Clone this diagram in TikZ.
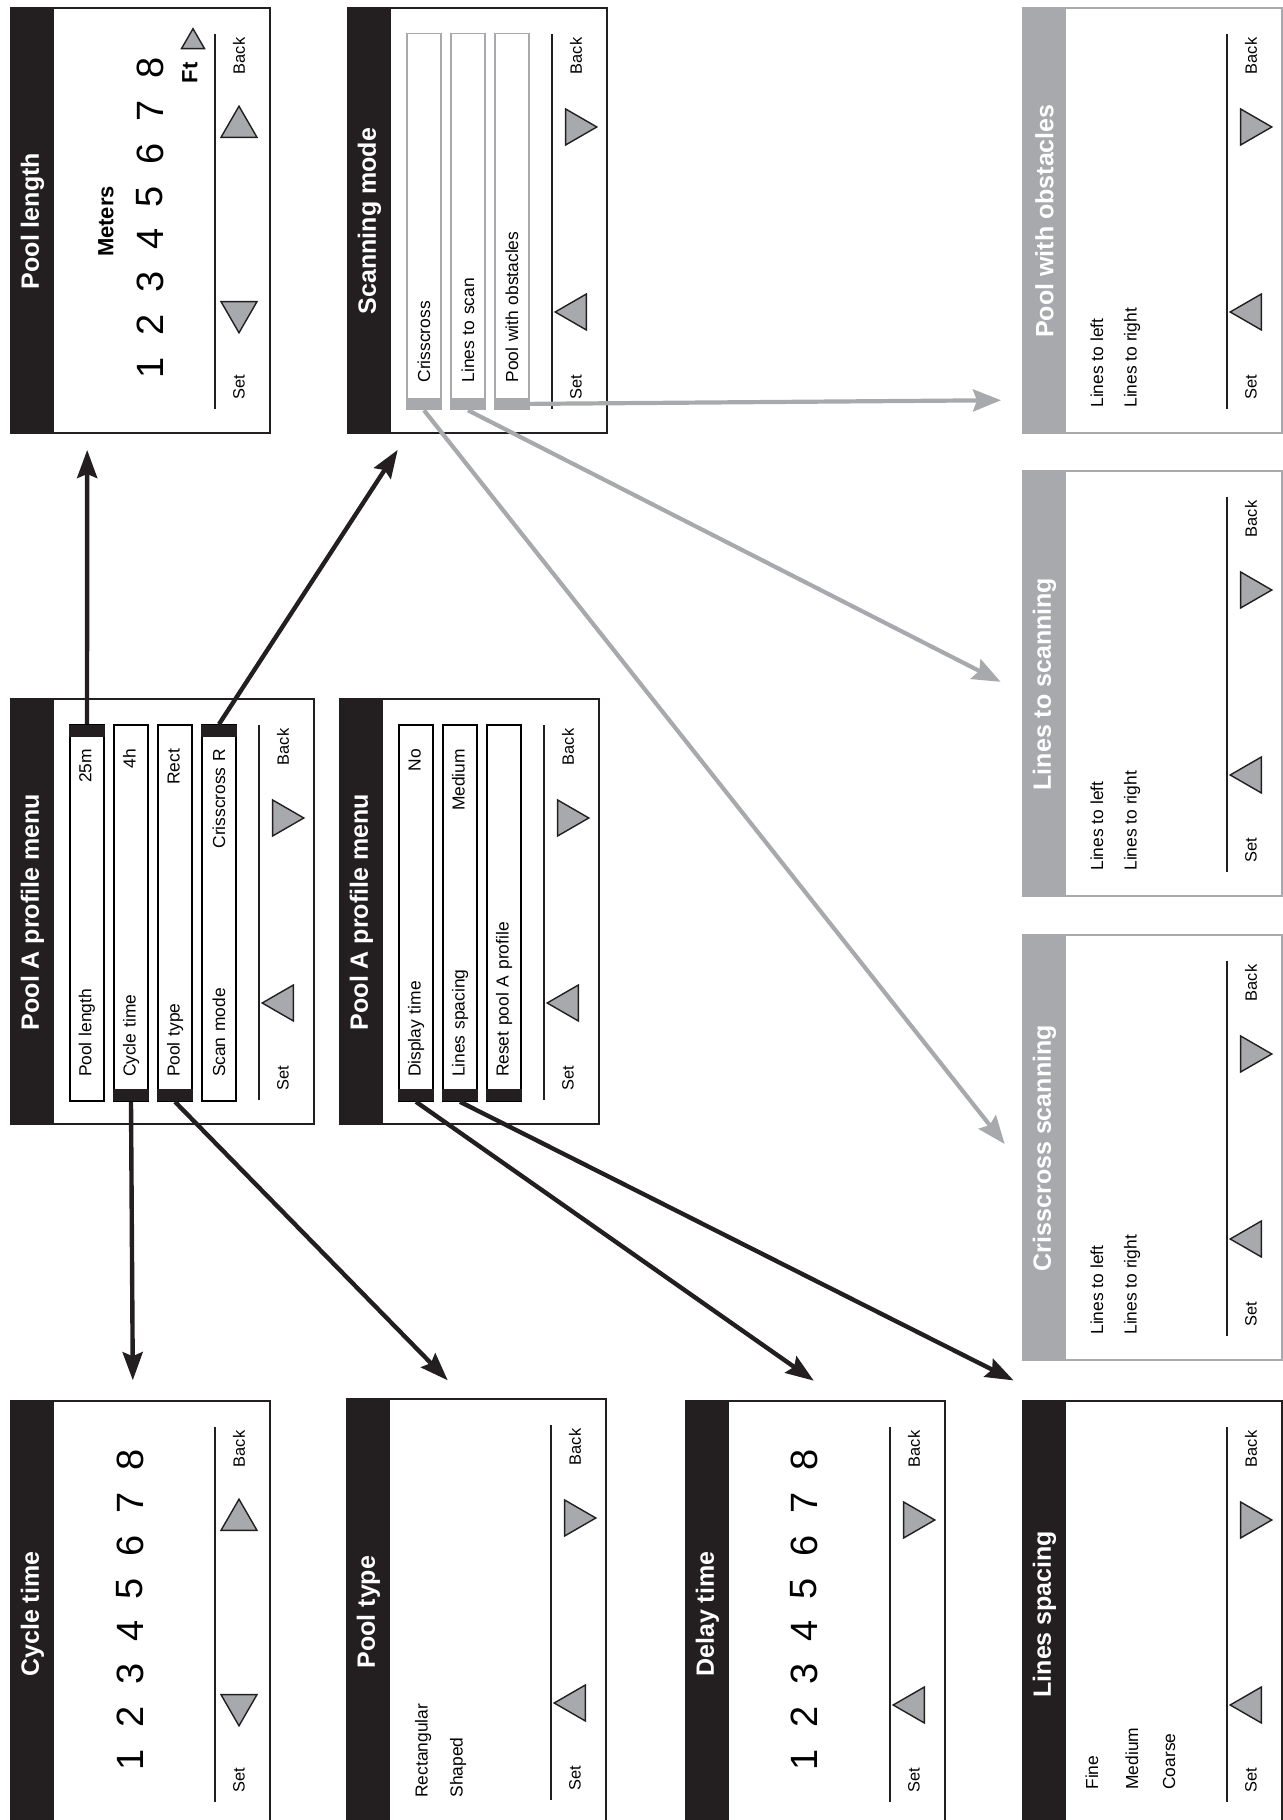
\documentclass[tikz,border=0pt]{standalone}
\usepackage{fontspec}
\setmainfont{Liberation Sans}
\usepackage{xcolor}
\usepackage{tikz}
\usetikzlibrary{arrows.meta,shapes.geometric}
\definecolor{scrdark}{HTML}{231F20}
\definecolor{scrgray}{HTML}{A7A9AC}
\tikzset{
    screenbox/.style={
        draw,
        fill=white,
        line width=0.9pt,
        inner sep=0pt,
        minimum width=212.5pt,
        anchor=north west
    },
    titlebar/.style={
        inner sep=0pt,
        minimum width=212.5pt,
        minimum height=22pt,
        anchor=north west,
        text=white,
        font=\fontsize{12.5}{15}\selectfont\bfseries
    },
    menuitem/.style={
        draw,
        fill=white,
        line width=0.8pt,
        inner xsep=12pt,
        inner ysep=0pt,
        text width=164pt,
        minimum height=17pt,
        font=\fontsize{8.7}{10}\selectfont
    },
    itemtab/.style={
        fill=scrdark,
        inner sep=0pt,
        minimum width=6pt,
        minimum height=17.8pt
    },
    navtri/.style={
        regular polygon,
        regular polygon sides=3,
        draw=scrdark,
        fill=scrgray,
        line width=0.7pt,
        inner sep=0pt,
        minimum size=20.8pt
    },
    keylabel/.style={
        inner sep=0pt,
        font=\fontsize{8.2}{9.6}\selectfont
    },
    listtext/.style={
        anchor=west,
        inner sep=0pt,
        font=\fontsize{8.7}{10}\selectfont
    },
    digit/.style={
        inner sep=0pt,
        font=\fontsize{19}{22}\selectfont
    },
    footline/.style={
        draw=scrdark,
        line width=1.4pt
    },
    blackarrow/.style={
        -{Stealth[length=14pt,width=10pt,inset=2pt]},
        draw=scrdark,
        line width=2.2pt
    },
    grayarrow/.style={
        -{Stealth[length=14pt,width=11pt,inset=2pt]},
        draw=scrgray,
        line width=2.1pt
    }
}

\begin{document}
\begin{tikzpicture}[x=1pt, y=1pt, rotate=90, transform shape]
    \useasboundingbox (0,-641.5) rectangle (910,0);
    \clip (0,-641.5) rectangle (910,0);

    \foreach \n/\x/\y/\h/\t/\c/\ra/\rb in {
        pl/693/-5/129.5/Pool length/scrdark/90/-90,
        scan/693/-173.5/129.5/Scanning mode/scrdark/0/180,
        obst/693/-511/129.5/Pool with obstacles/scrgray/0/180,
        lscan/461.5/-511/129.5/Lines to scanning/scrgray/0/180,
        cscan/229.5/-511/129.5/Crisscross scanning/scrgray/0/180,
        menua/347.5/-5/151.5/Pool A profile menu/scrdark/0/180,
        menub/347.5/-169.5/129.5/Pool A profile menu/scrdark/0/180,
        cyc/-3.5/-5/129.5/Cycle time/scrdark/90/-90,
        ptype/-2.5/-173/129.5/Pool type/scrdark/0/180,
        delay/-3.5/-342.5/129.5/Delay time/scrdark/0/180,
        lsp/-3.5/-511/129.5/Lines spacing/scrdark/0/180}{
        \node[screenbox, draw=\c, minimum height=\h pt] (\n) at (\x,\y) {};
        \node[titlebar, fill=\c] (\n-title) at (\x,\y) {\t};
        \draw[footline] (\x+12.5,\y-\h+27) -- (\x+200,\y-\h+27);
        \node[keylabel] (\n-set) at (\x+23.5,\y-\h+15) {Set};
        \node[keylabel] (\n-back) at (\x+189,\y-\h+15) {Back};
        \node[navtri, rotate=\ra] (\n-prev) at (\x+61,\y-\h+15) {};
        \node[navtri, rotate=\rb] (\n-next) at (\x+153.5,\y-\h+15) {};
    }

    \foreach \n/\y/\lab/\val/\side in {
        a1/-43.5/Pool length/25m/east,
        a2/-65.5/Cycle time/4h/west,
        a3/-87.5/Pool type/Rect/west,
        a4/-109.5/Scan mode/Crisscross R/east,
        b1/-208/Display time/No/west,
        b2/-230/Lines spacing/Medium/west,
        b3/-252/Reset pool A profile//west}{
        \node[menuitem] (\n) at (453.5,\y) {\lab\hfill\val\hspace*{3pt}};
        \node[itemtab, anchor=\side] (\n-tab) at (\n.\side) {};
    }

    \foreach \n/\y/\lab in {
        s1/-212/Crisscross,
        s2/-234/Lines to scan,
        s3/-256/Pool with obstacles}{
        \node[menuitem, draw=scrgray] (\n) at (799.25,\y) {\hspace*{1.5pt}\lab};
        \node[itemtab, fill=scrgray, anchor=west] (\n-tab) at (\n.west) {};
    }

    \node[font=\fontsize{11}{13}\selectfont\bfseries, inner sep=0pt] (pl-unit) at (799.25,-53) {Meters};
    \node[font=\fontsize{11}{13}\selectfont\bfseries, inner sep=0pt] (pl-ft) at (873.5,-95) {Ft};
    \node[navtri, minimum size=13.3pt, rotate=-90] (pl-ftnext) at (889,-96.5) {};
    \foreach \k in {1,...,8}{
        \node[digit] (pl-d\k) at ({726+(\k-1)*21.43},-75) {\k};
        \node[digit] (cyc-d\k) at ({30+(\k-1)*21.43},-65) {\k};
        \node[digit] (delay-d\k) at ({30+(\k-1)*21.43},-402) {\k};
    }

    \node[listtext] (ptype-rect) at (11,-211.5) {Rectangular};
    \node[listtext] (ptype-shaped) at (11,-229) {Shaped};
    \node[listtext] (lsp-fine) at (15,-546) {Fine};
    \node[listtext] (lsp-medium) at (15,-566) {Medium};
    \node[listtext] (lsp-coarse) at (15,-584.5) {Coarse};
    \foreach \n/\x in {obst/706, lscan/474.5, cscan/242.5}{
        \node[listtext] (\n-left) at (\x,-548.5) {Lines to left};
        \node[listtext] (\n-right) at (\x,-566) {Lines to right};
    }

    \draw[blackarrow, shorten >=8pt] (a1-tab.east) -- (pl.166.1);
    \draw[blackarrow, shorten >=10pt] (a2-tab.west) -- (cyc.2.3);
    \draw[blackarrow, shorten >=12.5pt] (a3-tab.west) -- (ptype.3);
    \draw[blackarrow, shorten >=9.5pt] (a4-tab.east) -- (scan.162.7);
    \draw[blackarrow, shorten >=17pt] (b1-tab.west) -- (delay.-7);
    \draw[blackarrow, shorten >=22pt] (b2-tab.west) -- (lsp.25.6);

    \draw[grayarrow, shorten >=14pt] (s1-tab.west) -- (cscan.98.8);
    \draw[grayarrow, shorten >=12pt] (s2-tab.west) -- (lscan.94);
    \draw[grayarrow, shorten >=10.5pt] (s3-tab.south) -- (obst.144.6);
\end{tikzpicture}
\end{document}
